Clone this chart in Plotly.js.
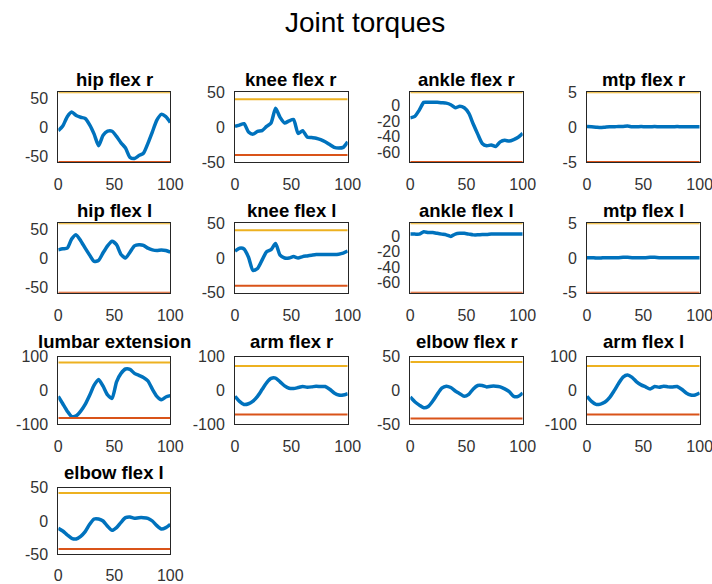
<!DOCTYPE html>
<html>
<head>
<meta charset="utf-8">
<script src="https://cdn.plot.ly/plotly-3.0.1.min.js"></script>
<style>
  html, body { margin: 0; padding: 0; background: #fff; }
  #chart { width: 712px; height: 584px; }
</style>
</head>
<body>
<div id="chart"></div>
<script>
// Gait cycle (% of stride)
const gaitPct = [0,4,8,12,16,20,24,28,32,36,40,44,48,52,56,60,64,68,72,76,80,84,88,92,96,100];

// Joint names, in subplot order
const jointNames = ["hip flex r","knee flex r","ankle flex r","mtp flex r",
                    "hip flex l","knee flex l","ankle flex l","mtp flex l",
                    "lumbar extension","arm flex r","elbow flex r","arm flex l",
                    "elbow flex l"];

// Joint torques (N·m) over the gait cycle
const hipFlexR   = [-6,2,18,26,20,17,15,4,-12,-32,-14,-7,-7,-16,-27,-36,-52,-54,-49,-45,-28,-8,12,22,18,8];
const kneeFlexR  = [1,3,5,-7,-10,-6,-5,1,6,27,14,6,9,11,-9,-5,-14,-15,-16,-18,-21,-25,-29,-30,-29,-21];
const ankleFlexR = [-16,-14,-6,4,4,4,4,3.5,3,1,-3,-1,-3,-10,-24,-37,-49,-52,-51,-53,-47,-45,-46,-44,-41,-36];
const mtpFlexR   = [0.1,0.05,0,-0.05,0,0.05,0.05,0.1,0.1,0.15,0.05,0.05,0.1,0.05,0.05,0.1,0.05,0.05,0.05,0.05,0.1,0.05,0.05,0.05,0.05,0.05];
const hipFlexL   = [14,16,17,33,40,30,17,5,-6,-4,9,21,29,23,6,0,10,21,23,22,17,14,13,14,13,10];
const kneeFlexL  = [10,14,13,1,-18,-15,-3,9,12,21,4,0,0,2,0,2,3,4,5,5,5,5,5,5.5,7,10];
const ankleFlexL = [3,3,3,6,5,5,4,3,2,0,3,4,4,3,2,2,2.5,2.5,3,3,3,3,3,3,3,3];
const mtpFlexL   = [0.05,0.05,0,0,0.05,0.05,0.05,0.05,0.1,0.1,0.05,0.05,0.05,0.05,0.1,0.1,0.05,0.05,0.05,0.05,0.05,0.05,0.05,0.05,0.05,0.05];
const lumbarExt  = [-18,-40,-62,-78,-76,-62,-42,-15,15,32,12,-14,-24,25,50,63,62,50,44,38,28,3,-18,-28,-20,-16];
const armFlexR   = [-18,-33,-42,-40,-32,-18,2,22,35,36,25,13,6,5,8,11,9,10,12,11,11,3,-8,-14,-14,-10];
const elbowFlexR = [-10,-17,-22,-26,-24,-16,-6,3,6,4,-1,-5,-9,-6,2,7,7,5,6,6,5,2,-2,-9,-9,-4];
const armFlexL   = [-18,-33,-42,-41,-35,-22,-2,20,39,45,38,25,16,10,4,11,9,12,10,10,11,3,-8,-14,-14,-8];
const elbowFlexL = [-11,-15,-21,-26,-27,-23,-16,-5,3,3,0,-8,-14,-10,-2,5,6,4,5,5,4,0,-7,-12,-10,-5];

// Torque limits (upper / lower) for each joint
const upperLimit = [60,40,17,5, 60,40,17,5, 82,72,42,72, 42];
const lowerLimit = [-60,-40,-73,-5, -60,-40,-73,-5, -82,-72,-42,-72, -42];

// Vertical axis ranges and ticks
const yRanges = [[-60,60],[-50,50],[-73,17],[-5,5],
                 [-60,60],[-50,50],[-73,17],[-5,5],
                 [-100,100],[-100,100],[-50,50],[-100,100],
                 [-50,50]];
const yTicks  = [[-50,0,50],[-50,0,50],[-60,-40,-20,0],[-5,0,5],
                 [-50,0,50],[-50,0,50],[-60,-40,-20,0],[-5,0,5],
                 [-100,0,100],[-100,0,100],[-50,0,50],[-100,0,100],
                 [-50,0,50]];
const xTicks = [0,50,100];

const series = [hipFlexR,kneeFlexR,ankleFlexR,mtpFlexR,
                hipFlexL,kneeFlexL,ankleFlexL,mtpFlexL,
                lumbarExt,armFlexR,elbowFlexR,armFlexL,
                elbowFlexL];

// Grid geometry (paper fractions) for the 4-column layout
const W = 712, H = 584;
const colPx = [[58.3,170.3],[235,347.7],[410.3,522.7],[587,699.7]];
const rowPx = [[92.3,162],[223.3,292.7],[356.5,424],[487.7,554.3]];

const FONT = "Liberation Sans, Arial, Helvetica, sans-serif";
const AX_COLOR = "#262626";

const traces = [];
const shapes = [];
const annotations = [];
const layout = {
  width: W, height: H,
  margin: {l: 0, r: 0, t: 0, b: 0},
  paper_bgcolor: "#ffffff",
  plot_bgcolor: "#ffffff",
  showlegend: false,
  font: {family: FONT, size: 16, color: AX_COLOR}
};

series.forEach((vals, i) => {
  const r = Math.floor(i / 4), c = i % 4;
  const n = i === 0 ? "" : String(i + 1);
  const xa = "x" + n, ya = "y" + n;
  const xDom = [colPx[c][0] / W, colPx[c][1] / W];
  const yDom = [1 - rowPx[r][1] / H, 1 - rowPx[r][0] / H];

  layout["xaxis" + n] = {
    domain: xDom, anchor: ya, range: [0, 100],
    tickvals: xTicks, ticktext: xTicks.map(String),
    showline: true, mirror: true, linecolor: AX_COLOR, linewidth: 1,
    showgrid: false, zeroline: false, ticks: "",
    ticklabelstandoff: r === 3 ? 6 : 8,
    ticklabeloverflow: "allow",
    tickfont: {family: FONT, size: 16, color: "#333333"}
  };
  layout["yaxis" + n] = {
    domain: yDom, anchor: xa, range: yRanges[i],
    tickvals: yTicks[i], ticktext: yTicks[i].map(String),
    showline: true, mirror: true, linecolor: AX_COLOR, linewidth: 1,
    showgrid: false, zeroline: false, ticks: "",
    ticklabelstandoff: 6,
    ticklabeloverflow: "allow",
    tickfont: {family: FONT, size: 16, color: "#333333"}
  };

  traces.push({
    type: "scatter", mode: "lines",
    x: gaitPct, y: vals, xaxis: xa, yaxis: ya,
    line: {color: "#0072BD", width: 3.5, shape: "spline", smoothing: 0.6},
    hoverinfo: "skip"
  });

  // upper and lower torque limits
  shapes.push({type: "line", xref: xa, yref: ya, x0: 0, x1: 100,
               y0: upperLimit[i], y1: upperLimit[i], layer: "above",
               line: {color: "#EDB120", width: 2}});
  shapes.push({type: "line", xref: xa, yref: ya, x0: 0, x1: 100,
               y0: lowerLimit[i], y1: lowerLimit[i], layer: "above",
               line: {color: "#D95319", width: 2}});

  annotations.push({
    text: "<b>" + jointNames[i] + "</b>",
    xref: "paper", yref: "paper",
    x: (xDom[0] + xDom[1]) / 2, y: yDom[1],
    xanchor: "center", yanchor: "middle",
    yshift: r < 2 ? 13 : 15,
    showarrow: false,
    font: {family: FONT, size: 18.5, color: "#000000"}
  });
});

annotations.push({
  text: "Joint torques",
  xref: "paper", yref: "paper",
  x: 365 / W, y: 1 - 22 / H,
  xanchor: "center", yanchor: "middle",
  showarrow: false,
  font: {family: FONT, size: 28, color: "#000000"}
});

layout.shapes = shapes;
layout.annotations = annotations;

Plotly.newPlot("chart", traces, layout, {staticPlot: true, displayModeBar: false});
</script>
</body>
</html>
